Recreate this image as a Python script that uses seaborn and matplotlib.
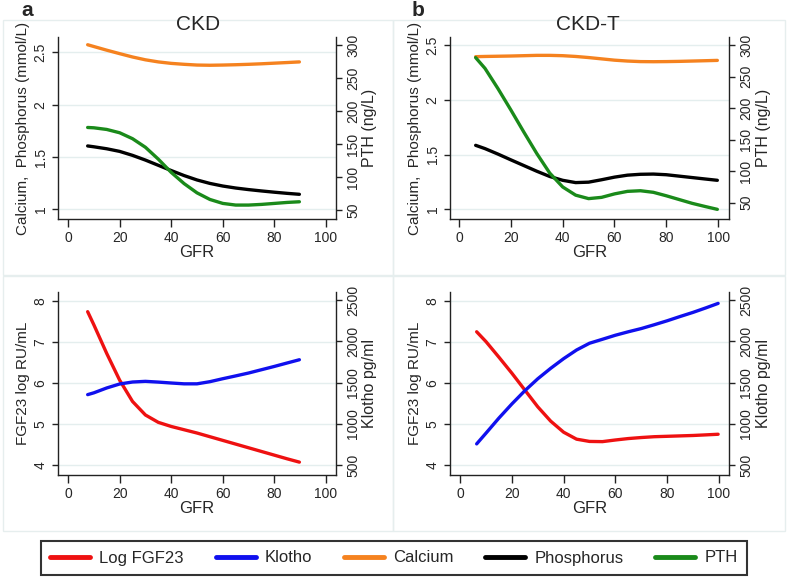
import matplotlib
matplotlib.use("Agg")
import matplotlib.pyplot as plt
import seaborn as sns
from matplotlib.lines import Line2D
from matplotlib.patches import Rectangle

# GFR grid for each group
gfr_ckd = [7.6, 10, 15, 20, 25, 30, 35, 40, 45, 50, 55, 60, 65, 70, 75, 80, 85, 89.7]
gfr_ckdt = [6.4, 10, 15, 20, 25, 30, 35, 40, 45, 50, 55, 60, 65, 70, 75, 80, 85, 90, 95, 99.7]

# CKD (panel a)
calcium_ckd = [2.572, 2.555, 2.52, 2.487, 2.455, 2.428, 2.408, 2.394, 2.385, 2.378,
               2.376, 2.378, 2.381, 2.385, 2.39, 2.396, 2.402, 2.408]
phos_ckd = [1.605, 1.597, 1.578, 1.553, 1.515, 1.47, 1.42, 1.37, 1.322, 1.28,
            1.247, 1.222, 1.203, 1.188, 1.175, 1.163, 1.152, 1.143]
pth_ckd = [175, 174.5, 172, 167, 158, 145, 127, 107, 90, 76,
           66, 60, 57.5, 57.5, 58.5, 60, 61.5, 62.5]
fgf23_ckd = [7.74, 7.42, 6.72, 6.07, 5.55, 5.22, 5.04, 4.94, 4.86, 4.78,
             4.69, 4.6, 4.51, 4.42, 4.33, 4.24, 4.15, 4.07]
klotho_ckd = [1353, 1375, 1434, 1482, 1506, 1514, 1505, 1494, 1484, 1484,
              1510, 1546, 1580, 1615, 1655, 1695, 1737, 1776]

# CKD-T (panel b)
calcium_ckdt = [2.396, 2.398, 2.40, 2.402, 2.405, 2.408, 2.408, 2.405, 2.398, 2.388,
                2.376, 2.364, 2.356, 2.351, 2.35, 2.351, 2.353, 2.356, 2.359, 2.362]
phos_ckdt = [1.585, 1.555, 1.505, 1.452, 1.40, 1.348, 1.30, 1.265, 1.244, 1.248,
             1.27, 1.294, 1.312, 1.32, 1.322, 1.316, 1.303, 1.29, 1.277, 1.265]
pth_ckdt = [280, 263, 231, 197, 162, 128, 97, 75, 62, 56.5,
            58.5, 64, 68, 69, 66.5, 61, 55, 49, 44, 39.5]
fgf23_ckdt = [7.25, 7.01, 6.63, 6.24, 5.83, 5.42, 5.07, 4.80, 4.63, 4.575,
              4.57, 4.61, 4.645, 4.67, 4.69, 4.70, 4.71, 4.72, 4.735, 4.75]
klotho_ckdt = [756, 886, 1069, 1240, 1400, 1545, 1672, 1789, 1894, 1976,
               2024, 2073, 2115, 2154, 2200, 2248, 2300, 2350, 2405, 2459]

gfr_ticks = [0, 20, 40, 60, 80, 100]
mineral_ticks = [1, 1.5, 2, 2.5]
mineral_labels = ['1', '1.5', '2', '2.5']
pth_ticks = [50, 100, 150, 200, 250, 300]
fgf_ticks = [4, 5, 6, 7, 8]
klotho_ticks = [500, 1000, 1500, 2000, 2500]

C_RED, C_BLUE, C_ORANGE, C_BLACK, C_GREEN = '#ee1111', '#1010ee', '#f5821f', '#000000', '#1a8a1a'
GRID = '#e4eeee'
SPINE = '#222222'
LW = 2.4

sns.set_style("white")
plt.rcParams['font.family'] = ['Liberation Sans', 'DejaVu Sans']

W, H = 787, 579
fig = plt.figure(figsize=(W / 100, H / 100), dpi=100)


def px_axes(l, t, r, b):
    return fig.add_axes([l / W, 1 - b / H, (r - l) / W, (b - t) / H])


def style_axis(ax, side):
    for s in ['top', 'left', 'right', 'bottom']:
        ax.spines[s].set_visible(False)
    ax.spines[side].set_visible(True)
    ax.spines[side].set_color(SPINE)
    ax.spines[side].set_linewidth(1)
    ax.tick_params(axis='y', direction='out', length=4.5, width=1, color=SPINE,
                   labelsize=10, pad=3, left=(side == 'left'), right=(side == 'right'),
                   labelleft=(side == 'left'), labelright=(side == 'right'))
    for lab in ax.get_yticklabels():
        lab.set_rotation(90)
        lab.set_va('center')


def panel(box, gfr, left_series, right_series, xlim, ylim_l, ylim_r,
          lticks, llabels, rticks, ylabel_l, ylabel_r):
    ax = px_axes(*box)
    ax.set_axisbelow(True)
    ax.yaxis.grid(True, color=GRID, lw=1)
    for vals, col in left_series:
        sns.lineplot(x=gfr, y=vals, ax=ax, color=col, linewidth=LW, legend=False)
    ax2 = ax.twinx()
    for vals, col in right_series:
        sns.lineplot(x=gfr, y=vals, ax=ax2, color=col, linewidth=LW, legend=False)
    ax.set_xlim(*xlim)
    ax.set_ylim(*ylim_l)
    ax2.set_ylim(*ylim_r)
    ax.set_xticks(gfr_ticks)
    ax.set_yticks(lticks)
    ax.set_yticklabels(llabels)
    ax2.set_yticks(rticks)
    ax2.set_yticklabels([str(t) for t in rticks])
    style_axis(ax, 'left')
    ax.spines['bottom'].set_visible(True)
    ax.spines['bottom'].set_color(SPINE)
    ax.spines['bottom'].set_linewidth(1)
    ax.tick_params(axis='x', direction='out', length=6, width=1, color=SPINE,
                   labelsize=10, pad=2.5, bottom=True)
    style_axis(ax2, 'right')
    ax.set_xlabel('GFR', fontsize=12, labelpad=0)
    ax.set_ylabel(ylabel_l, fontsize=11, labelpad=2.5)
    ax2.set_ylabel(ylabel_r, fontsize=11.5, labelpad=1.5)
    return ax, ax2


panel((58, 37, 336, 219), gfr_ckd,
      [(calcium_ckd, C_ORANGE), (phos_ckd, C_BLACK)], [(pth_ckd, C_GREEN)],
      (-3.9, 103.9), (0.907, 2.646), (36.4, 312),
      mineral_ticks, mineral_labels, pth_ticks,
      'Calcium,  Phosphorus (mmol/L)', 'PTH (ng/L)')
panel((450, 37, 729, 219), gfr_ckdt,
      [(calcium_ckdt, C_ORANGE), (phos_ckdt, C_BLACK)], [(pth_ckdt, C_GREEN)],
      (-3.5, 104.2), (0.911, 2.576), (24.2, 312.7),
      mineral_ticks, mineral_labels, pth_ticks,
      'Calcium,  Phosphorus (mmol/L)', 'PTH (ng/L)')
panel((58, 292, 336, 475), gfr_ckd,
      [(fgf23_ckd, C_RED)], [(klotho_ckd, C_BLUE)],
      (-3.9, 103.9), (3.756, 8.22), (379, 2597),
      fgf_ticks, [str(t) for t in fgf_ticks], klotho_ticks,
      'FGF23 log RU/mL', 'Klotho pg/ml')
panel((450, 292, 729, 475), gfr_ckdt,
      [(fgf23_ckdt, C_RED)], [(klotho_ckdt, C_BLUE)],
      (-3.9, 103.9), (3.756, 8.22), (379, 2597),
      fgf_ticks, [str(t) for t in fgf_ticks], klotho_ticks,
      'FGF23 log RU/mL', 'Klotho pg/ml')

# faint frames around each sub-graph
for (l, t, r, b) in [(3, 20, 393, 275), (393, 20, 785, 275),
                     (3, 276, 393, 531), (393, 276, 785, 531)]:
    fig.add_artist(Rectangle((l / W, 1 - b / H), (r - l) / W, (b - t) / H,
                             transform=fig.transFigure, fill=False,
                             edgecolor='#e6eeee', lw=1))

fig.text(198 / W, 1 - 25 / H, 'CKD', ha='center', va='center', fontsize=15)
fig.text(588 / W, 1 - 25 / H, 'CKD-T', ha='center', va='center', fontsize=15)
fig.text(27 / W, 1 - 11 / H, 'a', ha='center', va='center', fontsize=15, fontweight='bold')
fig.text(418 / W, 1 - 11 / H, 'b', ha='center', va='center', fontsize=15, fontweight='bold')

handles = [Line2D([], [], color=c, lw=3.5) for c in [C_RED, C_BLUE, C_ORANGE, C_BLACK, C_GREEN]]
labels = ['Log FGF23', 'Klotho', 'Calcium', 'Phosphorus', 'PTH']
leg = fig.legend(handles, labels, loc='center', bbox_to_anchor=(394 / W, 1 - 558 / H),
                 ncol=5, fontsize=12, frameon=True, fancybox=False, edgecolor='black',
                 handlelength=2.4, handletextpad=0.55, columnspacing=1.9,
                 borderpad=0.55, borderaxespad=0)
leg.get_frame().set_linewidth(1.5)

fig.savefig('out.png', dpi=100)
